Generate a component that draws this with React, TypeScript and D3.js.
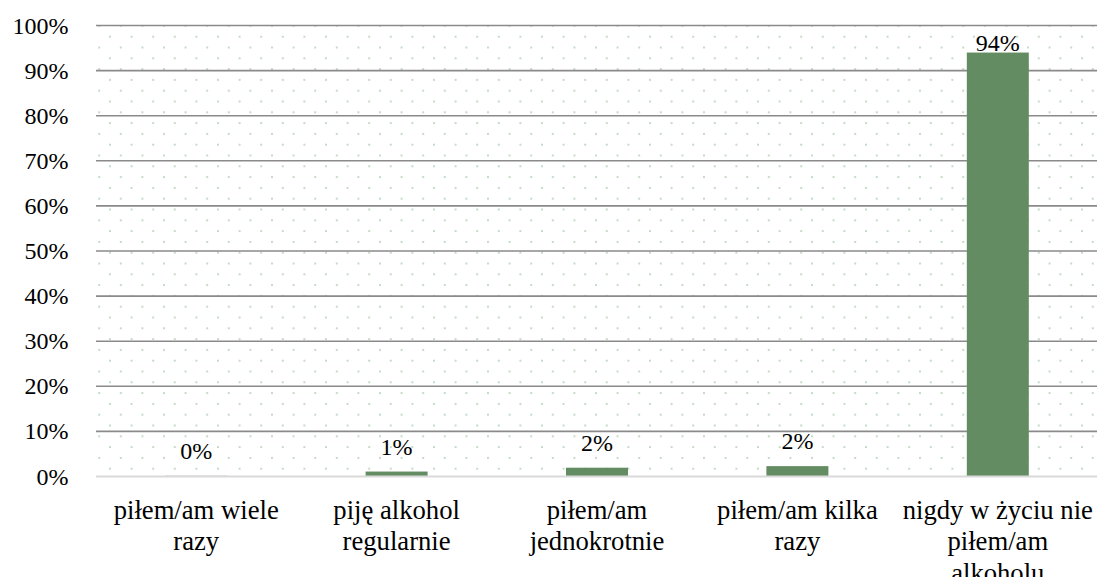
import React from "react";
import * as d3 from "d3";

const categories: string[] = [
  "piłem/am wiele\nrazy",
  "piję alkohol\nregularnie",
  "piłem/am\njednokrotnie",
  "piłem/am kilka\nrazy",
  "nigdy w życiu nie\npiłem/am\nalkoholu",
];
const values: number[] = [0.15, 1.1, 1.95, 2.3, 94];
const valueLabels: string[] = ["0%", "1%", "2%", "2%", "94%"];
const yTicks: number[] = [0, 10, 20, 30, 40, 50, 60, 70, 80, 90, 100];
const tickLabels: string[] = yTicks.map((t) => `${t}%`);

const W = 1097;
const H = 577;
const SERIF = "Liberation Serif";

export default function App() {
  const left = 96;
  const right = 1098;
  const top = 25.5;
  const bottom = 476.5;

  const x = d3.scaleBand<string>().domain(categories).range([left, right]).paddingInner(0).paddingOuter(0);
  const y = d3.scaleLinear().domain([0, 100]).range([bottom, top]);
  const barW = 62;

  return (
    <svg
      width={W}
      height={H}
      fontFamily={SERIF}
      style={{ position: "absolute", left: 0, top: 0, background: "#fff", fontFamily: `"${SERIF}"` }}
    >
      <defs>
        <pattern id="dots" patternUnits="userSpaceOnUse" width={21.6} height={21.6} x={110 - 1} y={36.7 - 1}>
          <rect x={0} y={0} width={2} height={2} fill="#c4dcc4" />
          <rect x={10.8} y={10.8} width={2} height={2} fill="#c4dcc4" />
        </pattern>
      </defs>
      <rect x={left} y={top} width={right - left} height={bottom - top} fill="url(#dots)" />
      {yTicks.map((t, k) => (
        <g key={t}>
          {t > 0 && (
            <line x1={left} x2={right} y1={y(t)} y2={y(t)} stroke="#8a8a8a" strokeWidth={1.6} />
          )}
          <text
            x={68.5}
            y={y(t) + 8}
            textAnchor="end"
            fontFamily={SERIF}
            fontSize={24}
            fill="#000"
            style={{ fontFamily: `"${SERIF}"`, fontSize: "24px" }}
          >
            {tickLabels[k]}
          </text>
        </g>
      ))}
      {categories.map((c, i) => {
        const cx = (x(c) as number) + x.bandwidth() / 2;
        const v = values[i];
        const barTop = y(v);
        const labelY = Math.max(barTop - 17, top + 25.5);
        return (
          <g key={c}>
            <rect x={cx - barW / 2} y={barTop} width={barW} height={bottom - barTop} fill="#638c62" />
            <text
              x={cx}
              y={labelY}
              textAnchor="middle"
              fontFamily={SERIF}
              fontSize={24}
              fill="#000"
              style={{ fontFamily: `"${SERIF}"`, fontSize: "24px" }}
            >
              {valueLabels[i]}
            </text>
            {c.split("\n").map((line, j) => (
              <text
                key={j}
                x={cx}
                y={518.5 + j * 31.7}
                textAnchor="middle"
                fontFamily={SERIF}
                fontSize={26.67}
                fill="#000"
                style={{ fontFamily: `"${SERIF}"`, fontSize: "26.67px" }}
              >
                {line}
              </text>
            ))}
          </g>
        );
      })}
      <line x1={left} x2={right} y1={bottom} y2={bottom} stroke="#d9d9d9" strokeWidth={2} />
    </svg>
  );
}
